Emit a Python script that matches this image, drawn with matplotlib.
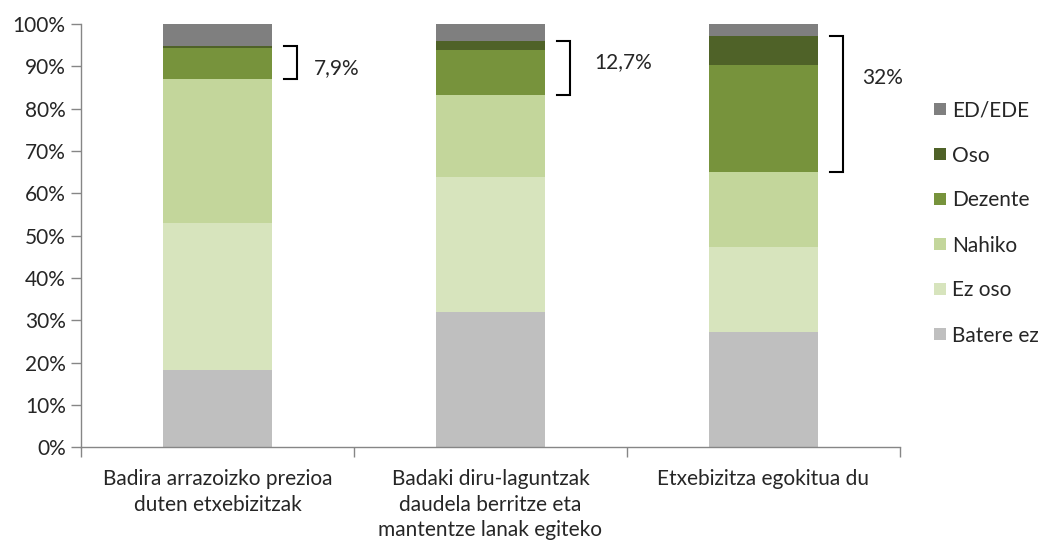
import matplotlib
matplotlib.use("Agg")
import matplotlib.pyplot as plt
import numpy as np

plt.rcParams['font.family'] = ['Lato', 'DejaVu Sans']

categories = ["Badira arrazoizko prezioa\nduten etxebizitzak",
              "Badaki diru-laguntzak\ndaudela berritze eta\nmantentze lanak egiteko",
              "Etxebizitza egokitua du"]
series = ["Batere ez", "Ez oso", "Nahiko", "Dezente", "Oso", "ED/EDE"]
batere_ez = [18.2, 31.9, 27.2]
ez_oso = [34.8, 31.9, 20.1]
nahiko = [34.0, 19.4, 17.8]
dezente = [7.3, 10.7, 25.2]
oso = [0.6, 2.0, 6.8]
ed_ede = [5.1, 4.1, 2.9]
highlight_labels = ["7,9%", "12,7%", "32%"]

colors = ["#bfbfbf", "#d7e4bd", "#c3d69b", "#77933c", "#4f6228", "#7f7f7f"]
grey = "#868686"
fs = 15

fig = plt.figure(figsize=(10.38, 5.45), dpi=100)
ax = fig.add_axes([0.078, 0.179, 0.789, 0.777])

x = np.arange(len(categories))
values = [batere_ez, ez_oso, nahiko, dezente, oso, ed_ede]
bottom = np.zeros(len(categories))
handles = []
for name, vals, col in zip(series, values, colors):
    h = ax.bar(x, vals, width=0.40, bottom=bottom, color=col, label=name)
    handles.append(h)
    bottom = bottom + np.array(vals)

# brackets around Dezente + Oso
text_dx = [0.355, 0.38, 0.36]
text_dy = [5.3, 4.9, 9.9]
for i in range(len(categories)):
    lo = batere_ez[i] + ez_oso[i] + nahiko[i]
    hi = lo + dezente[i] + oso[i]
    x0, x1 = i + 0.245, i + 0.29
    ax.plot([x0, x1, x1, x0], [hi, hi, lo, lo], color="black", lw=1.5,
            solid_joinstyle="miter", clip_on=False)
    ax.text(i + text_dx[i], hi - text_dy[i], highlight_labels[i], fontsize=fs,
            va="center", ha="left", color="#262626")

ax.set_xlim(-0.5, 2.5)
ax.set_ylim(0, 100)
ax.set_yticks(np.arange(0, 101, 10))
ax.set_yticklabels([f"{v}%" for v in range(0, 101, 10)])
ax.set_xticks(x)
ax.set_xticklabels(categories, linespacing=1.36)
ax.set_xticks([-0.5, 0.5, 1.5, 2.5], minor=True)
ax.tick_params(axis="x", which="major", length=0, pad=15.5, labelsize=fs, colors="#262626")
ax.tick_params(axis="x", which="minor", length=7, color=grey, width=1)
ax.tick_params(axis="y", length=7, color=grey, width=1, labelsize=fs, labelcolor="#262626", pad=4)
for s in ["top", "right"]:
    ax.spines[s].set_visible(False)
for s in ["left", "bottom"]:
    ax.spines[s].set_color(grey)
    ax.spines[s].set_linewidth(1)

fig.legend(handles[::-1], series[::-1], loc="upper left", bbox_to_anchor=(0.882, 0.85),
           frameon=False, fontsize=fs, labelspacing=1.2, handlelength=0.55,
           handleheight=0.55, handletextpad=0.3, labelcolor="#262626")

fig.savefig("out.png", dpi=100)
